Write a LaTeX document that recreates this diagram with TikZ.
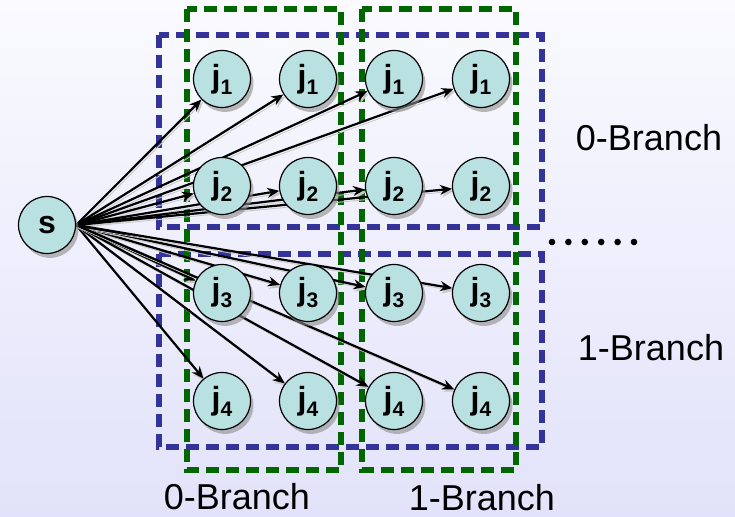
\documentclass[tikz,border=0pt]{standalone}
\usepackage{fontspec}
\setmainfont{Liberation Sans}
\usetikzlibrary{arrows.meta,shadows}
\pgfdeclarelayer{bg}
\pgfdeclarelayer{edges}
\pgfsetlayers{bg,edges,main}
\definecolor{jfill}{RGB}{185,225,225}
\definecolor{boxblue}{RGB}{51,51,153}
\definecolor{boxgreen}{RGB}{0,102,0}
\definecolor{bgtop}{RGB}{250,250,255}
\definecolor{bgbot}{RGB}{226,226,250}
\newcommand{\jsub}[1]{j\raisebox{-0.22em}{\fontsize{10.5}{11}\selectfont #1}}
\tikzset{
  job/.style={circle,draw=black,line width=0.6pt,fill=jfill,minimum size=28.5pt,inner sep=0pt,
    font=\fontsize{16}{18}\selectfont\bfseries,
    drop shadow={shadow xshift=1.5pt,shadow yshift=-2.2pt,fill=black!45,opacity=0.6}},
  edge/.style={line width=1.1pt,-{Stealth[length=6pt,width=5pt]},
    preaction={draw=black!22,transform canvas={xshift=0.8pt,yshift=-1.2pt}}},
  rowbox/.style={draw=boxblue,line width=2.6pt,dash pattern=on 6.5pt off 3.5pt},
  colbox/.style={draw=boxgreen,line width=2.6pt,dash pattern=on 6.5pt off 3.5pt},
  lbl/.style={font=\fontsize{18}{20}\selectfont}
}
\begin{document}
\begin{tikzpicture}[x=0.5pt,y=-0.5pt]
\useasboundingbox (0,0) rectangle (735,517);
% background and the four branch boxes
\begin{pgfonlayer}{bg}
\shade[top color=bgtop,bottom color=bgbot] (0,0) rectangle (735,517);
\draw[rowbox] (159,35) rectangle (542,227);
\draw[rowbox] (159,254) rectangle (542,447);
\draw[colbox] (187,9) rectangle (341,470);
\draw[colbox] (362,9) rectangle (516,470);
\end{pgfonlayer}
% nodes
\node[job] (s) at (47,225) {s};
\foreach \r/\y in {1/79,2/186,3/293,4/401}
  \foreach \c/\x in {1/222,2/308,3/394,4/481}
    \node[job] (j\r-\c) at (\x,\y) {\jsub{\r}};
% edges from s
\begin{pgfonlayer}{edges}
\foreach \r in {1,...,4}
  \foreach \c in {1,...,4}
    \draw[edge] (s.east) -- (j\r-\c);
\end{pgfonlayer}
% labels
\node[lbl] (zrow) at (649,138) {0-Branch};
\node[lbl] (orow) at (651,348) {1-Branch};
\node[lbl] (zcol) at (237,497) {0-Branch};
\node[lbl] (ocol) at (482,498) {1-Branch};
\foreach \i in {0,...,5} \fill (552+16.4*\i,242) circle (1.65pt);
\end{tikzpicture}
\end{document}
